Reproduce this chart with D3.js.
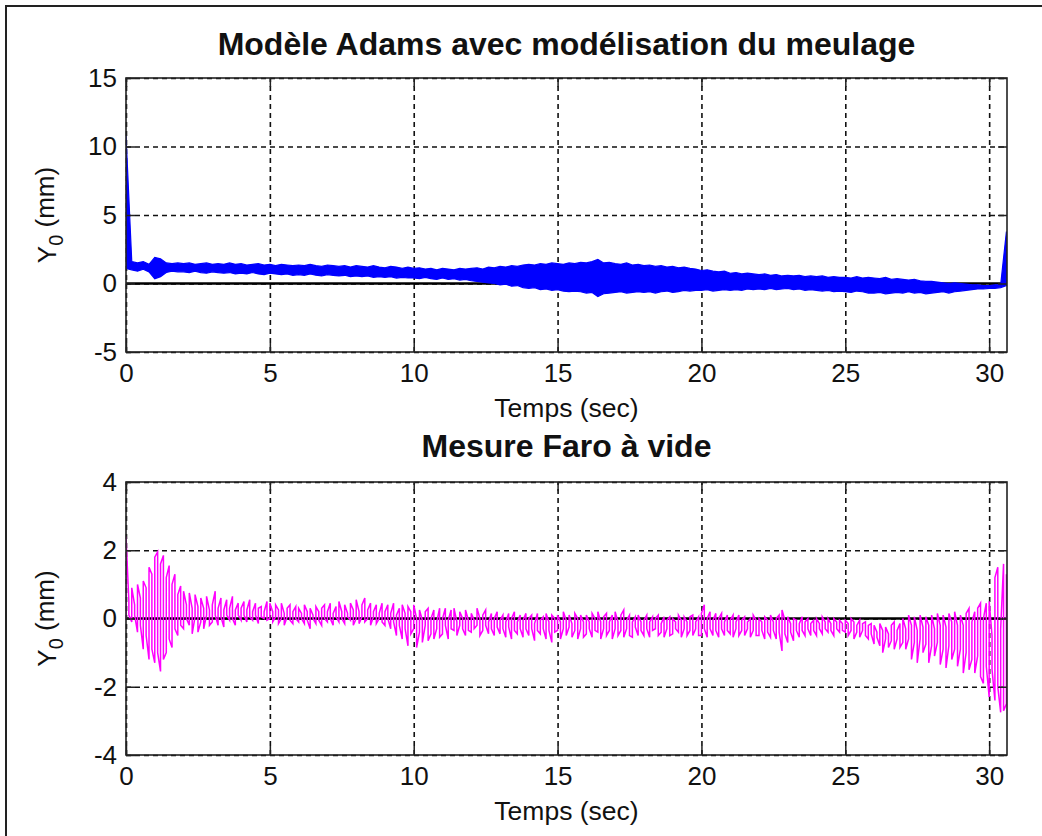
<!DOCTYPE html>
<html><head><meta charset="utf-8">
<script src="https://cdn.jsdelivr.net/npm/d3@7"></script>
<style>body{margin:0;background:#fff} svg{display:block} text{font-family:"Liberation Sans",Arial,sans-serif;fill:#111}</style>
</head><body>
<svg id="c" width="1042" height="836"></svg>
<script>
const xTicks=[0,5,10,15,20,25,30];
const topYTicks=[-5,0,5,10,15];
const botYTicks=[-4,-2,0,2,4];
const titles=["Modèle Adams avec modélisation du meulage","Mesure Faro à vide"];
const xLabel="Temps (sec)";
const tMax=30.62;
// Top series (blue): upper and lower envelope, one sample every 0.2 s
const topStep=0.2;
const topHi=[10.8,1.6,1.5,1.6,1.4,1.9,1.8,1.5,1.45,1.5,
1.45,1.5,1.4,1.45,1.5,1.4,1.45,1.4,1.5,1.4,
1.45,1.35,1.4,1.45,1.35,1.4,1.3,1.4,1.35,1.3,
1.35,1.3,1.4,1.3,1.25,1.35,1.3,1.25,1.3,1.2,
1.3,1.25,1.2,1.3,1.2,1.15,1.25,1.2,1.1,1.2,
1.1,1.15,1.05,1.1,1.0,1.1,1.05,1.0,1.1,1.05,
1.1,1.15,1.05,1.2,1.15,1.25,1.2,1.3,1.25,1.35,
1.4,1.35,1.45,1.4,1.5,1.45,1.4,1.5,1.45,1.55,
1.5,1.6,1.75,1.5,1.55,1.45,1.4,1.5,1.35,1.4,
1.3,1.35,1.25,1.3,1.2,1.25,1.15,1.2,1.1,1.05,
0.95,1.0,0.9,0.85,0.9,0.75,0.8,0.7,0.75,0.7,
0.65,0.7,0.6,0.65,0.55,0.6,0.55,0.6,0.5,0.55,
0.5,0.55,0.45,0.5,0.45,0.45,0.4,0.5,0.4,0.45,
0.4,0.35,0.45,0.3,0.35,0.3,0.25,0.3,0.2,0.15,
0.15,0.1,0.05,0.0,0.05,0.0,-0.05,-0.1,-0.1,-0.15,
-0.15,-0.1,-0.1,3.8];
const topLo=[1.1,1.0,0.9,1.05,0.85,0.35,0.5,0.8,0.9,0.85,
0.85,0.8,0.9,0.8,0.75,0.85,0.8,0.75,0.8,0.7,
0.75,0.7,0.8,0.7,0.65,0.75,0.7,0.65,0.7,0.6,
0.65,0.6,0.7,0.6,0.55,0.65,0.6,0.55,0.6,0.5,
0.55,0.5,0.55,0.45,0.5,0.45,0.5,0.4,0.45,0.4,
0.4,0.35,0.45,0.35,0.3,0.4,0.3,0.35,0.25,0.3,
0.2,0.15,0.1,0.05,0.0,-0.1,-0.05,-0.2,-0.15,-0.3,
-0.35,-0.3,-0.45,-0.4,-0.5,-0.45,-0.55,-0.6,-0.55,-0.6,
-0.7,-0.65,-0.95,-0.75,-0.7,-0.65,-0.6,-0.7,-0.65,-0.6,
-0.65,-0.6,-0.7,-0.6,-0.55,-0.65,-0.6,-0.5,-0.55,-0.5,
-0.5,-0.45,-0.55,-0.5,-0.45,-0.5,-0.45,-0.5,-0.4,-0.45,
-0.4,-0.45,-0.35,-0.45,-0.4,-0.35,-0.45,-0.4,-0.5,-0.45,
-0.5,-0.55,-0.5,-0.6,-0.55,-0.6,-0.65,-0.55,-0.6,-0.7,
-0.7,-0.65,-0.75,-0.7,-0.65,-0.7,-0.6,-0.7,-0.65,-0.75,
-0.7,-0.65,-0.6,-0.7,-0.6,-0.55,-0.5,-0.45,-0.4,-0.4,
-0.35,-0.35,-0.3,-0.15];
// Bottom series (magenta): max / min of the signal, one sample every 0.1 s
const botStep=0.1;
const botHi=[2.4,0.5,0.9,0.4,1.0,0.6,1.1,0.9,1.5,1.3,
1.8,1.95,1.6,1.85,1.2,1.55,1.0,1.3,0.7,0.95,
0.8,0.4,0.75,0.3,0.7,0.35,0.6,0.3,0.65,0.25,
0.4,0.8,0.3,0.6,0.25,0.55,0.3,0.65,0.25,0.45,
0.3,0.5,0.25,0.55,0.2,0.45,0.3,0.35,0.2,0.5,
0.45,0.2,0.4,0.25,0.45,0.15,0.3,0.4,0.2,0.35,
0.3,0.15,0.4,0.2,0.3,0.1,0.35,0.2,0.3,0.4,
0.2,0.45,0.15,0.35,0.5,0.2,0.4,0.15,0.45,0.25,
0.55,0.2,0.4,0.6,0.25,0.45,0.2,0.4,0.15,0.45,
0.2,0.4,0.15,0.45,0.1,0.3,0.4,0.15,0.35,0.2,
0.4,0.0,0.25,-0.05,0.2,0.3,0.0,0.25,-0.1,0.3,
0.0,0.3,-0.05,0.25,0.3,-0.1,0.2,0.0,0.25,-0.05,
0.15,-0.05,0.3,0.0,0.1,0.25,-0.1,0.15,0.0,0.2,
-0.05,0.1,-0.1,0.15,0.0,0.2,-0.1,0.1,-0.05,0.15,
0.0,0.1,-0.15,0.15,-0.05,0.05,0.15,-0.1,0.1,0.0,
0.1,-0.1,0.2,-0.05,0.1,-0.15,0.15,0.0,0.1,-0.1,
0.1,-0.1,0.15,0.0,0.2,-0.1,0.05,0.15,-0.1,0.1,
0.2,-0.1,0.1,0.25,-0.05,0.1,-0.1,0.05,0.1,-0.1,
-0.05,0.1,-0.1,0.05,0.0,0.1,-0.15,0.05,-0.05,0.05,
0.0,-0.1,0.1,-0.05,0.05,-0.1,0.05,0.1,-0.1,0.05,
0.15,0.4,0.0,0.2,-0.05,0.15,0.0,0.15,-0.1,0.1,
-0.05,0.1,-0.1,0.1,-0.05,0.05,-0.1,0.0,0.1,-0.05,
0.0,-0.1,0.05,-0.05,0.1,-0.1,0.0,0.1,0.25,-0.05,
0.05,-0.15,0.0,-0.05,-0.15,0.05,-0.1,0.0,-0.15,-0.05,
0.0,-0.15,0.05,-0.1,0.0,-0.15,0.0,-0.1,-0.05,-0.15,
-0.05,-0.15,0.0,-0.1,-0.2,-0.05,-0.15,-0.1,-0.2,-0.15,
-0.2,-0.4,-0.15,-0.35,-0.25,-0.45,-0.2,-0.1,-0.35,-0.15,
0.0,-0.3,0.1,-0.2,0.05,-0.35,0.1,-0.25,0.05,-0.2,
0.1,-0.3,0.15,-0.2,0.1,-0.25,0.15,-0.1,0.2,-0.2,
0.1,-0.2,0.15,0.3,-0.1,0.2,0.3,0.45,0.0,0.45,
0.5,-0.5,1.2,1.5,-0.3,1.6,1.3];
const botLo=[0.0,0.1,-0.1,0.1,-0.4,-0.2,-0.9,-0.5,-1.2,-0.9,
-1.3,-1.0,-1.55,-1.2,-1.0,-0.6,-0.85,-0.3,-0.5,-0.2,
-0.3,0.0,-0.2,-0.45,0.05,-0.4,-0.1,-0.3,0.1,-0.2,
-0.1,0.1,-0.2,0.05,-0.25,0.1,-0.05,0.0,-0.2,0.1,
-0.05,0.1,-0.1,0.05,-0.05,0.1,-0.15,0.05,0.0,-0.05,
0.0,-0.1,0.05,-0.15,0.0,-0.2,0.05,-0.05,-0.15,0.0,
-0.1,0.0,-0.15,-0.05,-0.3,0.0,-0.15,-0.05,-0.2,0.0,
-0.1,0.0,-0.2,0.05,-0.1,0.0,-0.15,0.05,-0.05,-0.2,
0.0,-0.15,0.05,-0.1,0.0,-0.2,0.05,-0.15,0.0,-0.1,
-0.2,0.0,-0.3,-0.1,-0.5,-0.2,-0.6,-0.3,-0.8,-0.45,
-0.3,-0.85,-0.4,-0.7,-0.2,-0.65,-0.45,-0.6,-0.3,-0.55,
-0.45,-0.2,-0.6,-0.3,-0.35,-0.5,-0.2,-0.3,-0.5,-0.35,
-0.4,-0.3,-0.2,-0.5,-0.35,-0.2,-0.45,-0.3,-0.5,-0.25,
-0.45,-0.3,-0.55,-0.25,-0.6,-0.35,-0.45,-0.3,-0.55,-0.3,
-0.5,-0.3,-0.65,-0.35,-0.45,-0.3,-0.6,-0.35,-0.7,-0.4,
-0.35,-0.6,-0.3,-0.5,-0.25,-0.55,-0.35,-0.6,-0.3,-0.55,
-0.45,-0.3,-0.55,-0.35,-0.4,-0.6,-0.3,-0.5,-0.35,-0.6,
-0.3,-0.5,-0.35,-0.55,-0.3,-0.5,-0.55,-0.25,-0.5,-0.35,
-0.5,-0.3,-0.55,-0.35,-0.3,-0.5,-0.4,-0.55,-0.3,-0.5,
-0.45,-0.3,-0.4,-0.55,-0.3,-0.5,-0.35,-0.5,-0.3,-0.5,
-0.5,-0.3,-0.55,-0.3,-0.5,-0.35,-0.55,-0.3,-0.5,-0.35,
-0.45,-0.55,-0.3,-0.5,-0.35,-0.5,-0.3,-0.55,-0.35,-0.5,
-0.5,-0.35,-0.6,-0.4,-0.55,-0.35,-0.6,-0.4,-0.95,-0.45,
-0.7,-0.4,-0.65,-0.35,-0.55,-0.35,-0.5,-0.3,-0.5,-0.35,
-0.5,-0.3,-0.45,-0.3,-0.4,-0.35,-0.5,-0.3,-0.4,-0.35,
-0.4,-0.5,-0.35,-0.6,-0.4,-0.55,-0.35,-0.5,-0.6,-0.45,
-0.75,-0.55,-0.8,-1.0,-0.6,-0.85,-0.65,-0.9,-0.6,-0.85,
-0.7,-0.9,-0.6,-1.2,-0.7,-1.3,-0.6,-1.0,-0.75,-1.3,
-0.8,-1.1,-0.7,-1.35,-0.9,-1.45,-0.8,-1.2,-0.9,-1.4,
-0.9,-1.6,-1.0,-1.5,-1.2,-1.6,-1.1,-1.7,-1.9,-1.4,
-2.3,-1.5,-2.4,-2.0,-2.75,-2.7,-2.5];

const fmt=d=>String(d);
const svg=d3.select('#c');
svg.append('rect').attr('x',6).attr('y',6).attr('width',1200).attr('height',1000)
  .attr('fill','none').attr('stroke','#222').attr('stroke-width',2);

const L=126,R=1007;
const panels=[
 {T:78,B:352,dom:[-5,15],yt:topYTicks,title:titles[0],titleY:55,xlabY:417,kind:'top'},
 {T:482,B:755,dom:[-4,4],yt:botYTicks,title:titles[1],titleY:457,xlabY:820,kind:'bot'}
];
panels.forEach((p,pi)=>{
  const x=d3.scaleLinear().domain([0,tMax]).range([L,R]);
  const y=d3.scaleLinear().domain(p.dom).range([p.B,p.T]);
  const g=svg.append('g');
  const cid='clip'+pi;
  svg.append('clipPath').attr('id',cid).append('rect').attr('x',L).attr('y',p.T).attr('width',R-L).attr('height',p.B-p.T);
  // grid
  g.append('g').attr('transform',`translate(0,${p.B})`)
   .call(d3.axisBottom(x).tickValues(xTicks).tickSize(-(p.B-p.T)).tickFormat(''))
   .call(a=>{a.select('.domain').remove();a.selectAll('line').attr('stroke','#111').attr('stroke-width',1.6).attr('stroke-dasharray','5,4');});
  g.append('g').attr('transform',`translate(${L},0)`)
   .call(d3.axisLeft(y).tickValues(p.yt).tickSize(-(R-L)).tickFormat(''))
   .call(a=>{a.select('.domain').remove();a.selectAll('line').attr('stroke','#111').attr('stroke-width',1.6).attr('stroke-dasharray','5,4');});
  const dg=g.append('g').attr('clip-path',`url(#${cid})`);
  // zero reference line
  dg.append('line').attr('x1',x(0)).attr('x2',x(tMax)).attr('y1',y(0)).attr('y2',y(0))
    .attr('stroke','#000').attr('stroke-width',2.6);
  if(p.kind==='top'){
    const idx=d3.range(topHi.length);
    const area=d3.area().x(i=>x(i*topStep)).y0(i=>y(topLo[i])).y1(i=>y(topHi[i]));
    dg.append('path').datum(idx).attr('d',area).attr('fill','#0000ff').attr('stroke','#0000ff').attr('stroke-width',1.2);
  } else {
    const pts=d3.range(botHi.length).flatMap(i=>{
      const a={t:i*botStep,v:botLo[i]}, b={t:i*botStep,v:botHi[i]};
      return i%2===0?[a,b]:[b,a];
    });
    const line=d3.line().x(d=>x(d.t)).y(d=>y(d.v));
    dg.append('path').datum(pts).attr('d',line).attr('fill','none').attr('stroke','#ff00ff').attr('stroke-width',1.5);
  }
  // ticks inward + labels
  const tk=a=>{a.select('.domain').remove();a.selectAll('line').attr('stroke','#222').attr('stroke-width',1.5);a.selectAll('text').style('font-size','26px').attr('fill','#111').style('font-family','"Liberation Sans",Arial,sans-serif');};
  g.append('g').attr('transform',`translate(0,${p.B})`).call(d3.axisBottom(x).tickValues(xTicks).tickSize(-9).tickPadding(12).tickFormat(fmt)).call(tk);
  g.append('g').attr('transform',`translate(0,${p.T})`).call(d3.axisTop(x).tickValues(xTicks).tickSize(-9).tickFormat('')).call(tk);
  g.append('g').attr('transform',`translate(${L},0)`).call(d3.axisLeft(y).tickValues(p.yt).tickSize(-9).tickPadding(9).tickFormat(fmt)).call(tk);
  g.append('g').attr('transform',`translate(${R},0)`).call(d3.axisRight(y).tickValues(p.yt).tickSize(-9).tickFormat('')).call(tk);
  // box
  g.append('rect').attr('x',L).attr('y',p.T).attr('width',R-L).attr('height',p.B-p.T)
    .attr('fill','none').attr('stroke','#222').attr('stroke-width',1.6);
  // title
  svg.append('text').attr('x',(L+R)/2).attr('y',p.titleY).attr('text-anchor','middle')
    .style('font-size','32px').style('font-weight','bold').attr('fill','#000').text(p.title);
  // x label
  svg.append('text').attr('x',(L+R)/2).attr('y',p.xlabY).attr('text-anchor','middle')
    .style('font-size','26.5px').text(xLabel);
  // y label
  const yl=svg.append('text').attr('transform',`translate(56,${(p.T+p.B)/2}) rotate(-90)`).attr('text-anchor','middle').style('font-size','26px');
  yl.append('tspan').text('Y');
  yl.append('tspan').attr('dy','0.35em').style('font-size','20px').text('0');
  yl.append('tspan').attr('dy','-0.35em').text(' (mm)');
});
</script>
</body></html>
